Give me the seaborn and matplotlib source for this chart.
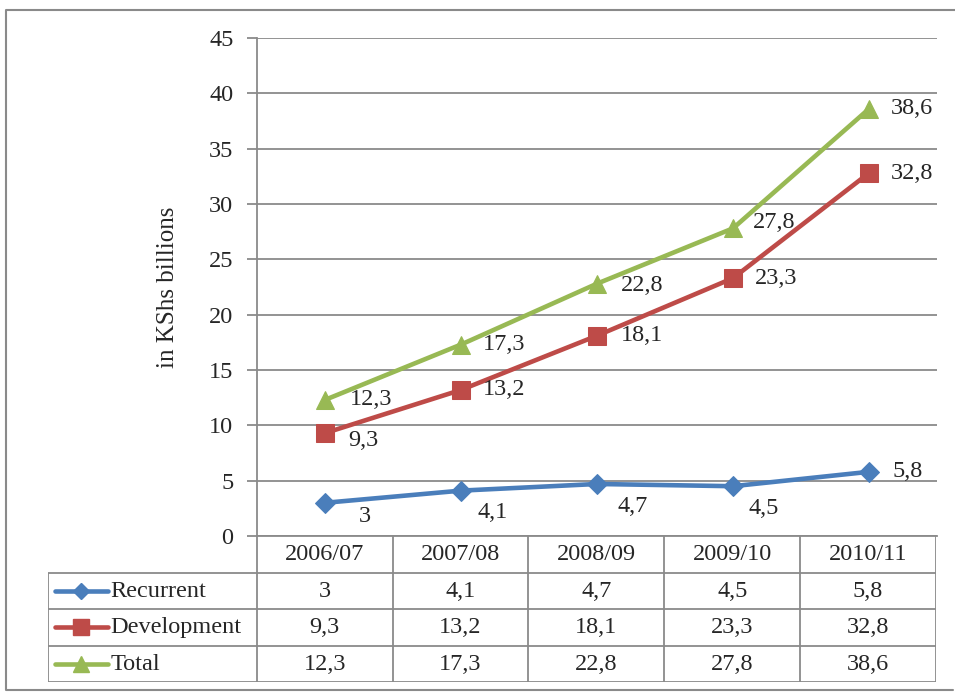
import matplotlib
matplotlib.use("Agg")
import matplotlib.pyplot as plt
import seaborn as sns
import pandas as pd
from matplotlib.lines import Line2D

# data
years = ["2006/07", "2007/08", "2008/09", "2009/10", "2010/11"]
recurrent = [3.0, 4.1, 4.7, 4.5, 5.8]
development = [9.3, 13.2, 18.1, 23.3, 32.8]
total = [12.3, 17.3, 22.8, 27.8, 38.6]
series_names = ["Recurrent", "Development", "Total"]

sns.set_theme(style="white")
plt.rcParams["font.family"] = ["Liberation Serif", "DejaVu Serif"]

W, H = 955, 693
fig = plt.figure(figsize=(W / 100, H / 100), dpi=100)
grey = "#8a8a8a"
fs = 17.5

colors = ["#4A7EBB", "#BE4B48", "#98B954"]
markers = ["D", "s", "^"]
msizes = [10, 13, 13]

df = pd.DataFrame({"year": years, "Recurrent": recurrent,
                   "Development": development, "Total": total})

# main plot area
ax = fig.add_axes([257 / W, 1 - 536 / H, 680 / W, 498 / H])
for name, c, m, ms in zip(series_names, colors, markers, msizes):
    sns.lineplot(data=df, x="year", y=name, ax=ax, color=c, lw=3.3,
                 marker=m, markersize=ms, markeredgecolor=c, sort=False)

ax.set_xlim(-0.5, 4.5)
ax.set_ylim(0, 45)
ax.set_yticks(range(0, 46, 5))
ax.set_xticks([])
ax.set_xlabel("")
ax.set_ylabel("in KShs billions", fontsize=18)
ax.yaxis.set_label_coords(-0.115, 0.5)
ax.tick_params(axis="y", labelsize=fs, length=7, width=1.3, color=grey,
               direction="out", pad=10, left=True)
ax.grid(axis="y", color=grey, lw=1.3)
ax.set_axisbelow(True)
for s in ["top", "right"]:
    ax.spines[s].set_visible(False)
for s in ["left", "bottom"]:
    ax.spines[s].set_color(grey)
    ax.spines[s].set_linewidth(1.3)

# data labels (offsets in points)
offsets = {
    "Recurrent": [(24, -10), (12, -16), (15, -16), (11, -16), (17, 0)],
    "Development": [(17, -5), (16, 0), (17, 0), (16, 0), (16, 0)],
    "Total": [(18, 0), (16, 0), (17, -1), (14, 4), (16, 0)],
}
for name in series_names:
    for i, v in enumerate(df[name]):
        dx, dy = offsets[name][i]
        ax.annotate(f"{v:g}".replace(".", ","), (i, v), xytext=(dx, dy),
                    textcoords="offset points", ha="left", va="center",
                    fontsize=fs)

# data table under the chart
labw = (257 - 48) / 136
tab = fig.add_axes([48 / W, 1 - 682 / H, 888 / W, 146 / H])
tab.set_xlim(-0.5 - labw, 4.5)
tab.set_ylim(4, 0)
tab.axis("off")
x0 = -0.5 - labw
for r in range(1, 5):
    tab.hlines(r, x0, 4.5, color=grey, lw=1.3)
tab.vlines(x0, 1, 4, color=grey, lw=1.3)
for k in range(6):
    tab.vlines(k - 0.5, 0, 4, color=grey, lw=1.3)
for i, yr in enumerate(years):
    tab.text(i, 0.5, yr, ha="center", va="center", fontsize=fs)
for r, (name, c, m, ms) in enumerate(zip(series_names, colors, markers, msizes), start=1):
    tab.plot([x0 + 0.05, x0 + 0.44], [r + 0.5, r + 0.5], color=c, lw=3.3)
    tab.plot([x0 + 0.245], [r + 0.5], marker=m, color=c, markersize=ms * 0.85)
    tab.text(x0 + 0.46, r + 0.52, name, ha="left", va="center", fontsize=fs)
    for i, v in enumerate(df[name]):
        tab.text(i, r + 0.52, f"{v:g}".replace(".", ","), ha="center",
                 va="center", fontsize=fs)

# outer chart border
fig.add_artist(Line2D([1.0, 6 / W, 6 / W, 953 / W],
                      [1 - 10 / H, 1 - 10 / H, 1 - 690 / H, 1 - 690 / H],
                      transform=fig.transFigure, color=grey, lw=1.5))

fig.savefig("out.png", dpi=100)
